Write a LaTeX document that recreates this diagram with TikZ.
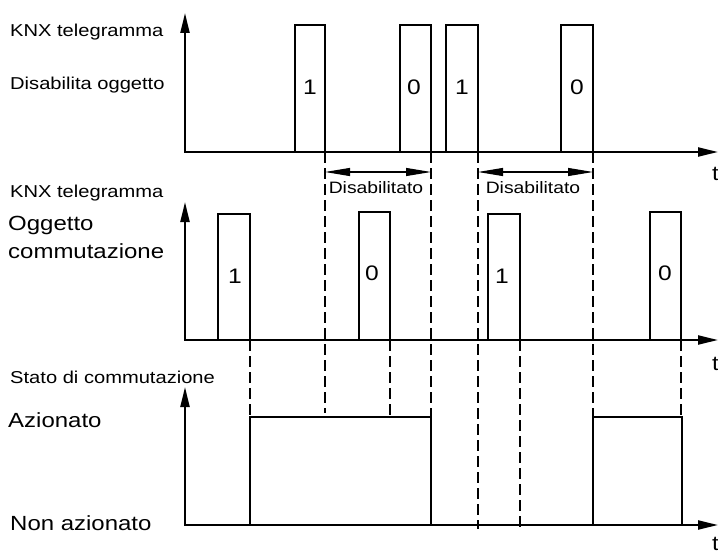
\documentclass[tikz,border=0pt]{standalone}
\usepackage{fontspec}
\setmainfont{Liberation Sans}[FakeStretch = 1.17]
\usepackage{tikz}
\usetikzlibrary{
    arrows.meta % Triangle tips on the axes and spans.
}

\begin{document}
\begin{tikzpicture}[%
        x = 1pt,
        y = -1pt,
        line cap = butt,
        axis/.style = {line width = 2.2pt,
            {Triangle[length = 20pt, width = 9pt]}-{Triangle[length = 20pt, width = 9pt]}},
        pulse/.style = {line width = 1.1pt},
        guide/.style = {line width = 1.1pt, dash pattern = on 11pt off 5pt},
        span/.style = {line width = 1.1pt,
            {Triangle[length = 25pt, width = 8pt]}-{Triangle[length = 25pt, width = 8pt]}},
        small/.style = {font = \fontsize{17.2}{20}\selectfont, anchor = base west, inner sep = 0pt},
        large/.style = {font = \fontsize{20.5}{24}\selectfont, anchor = base west, inner sep = 0pt},
        spanlabel/.style = {font = \fontsize{16.5}{20}\selectfont, anchor = base, inner sep = 0pt},
        bit/.style = {font = \fontsize{21}{24}\selectfont, anchor = base, inner sep = 0pt}
    ]

        % Page frame.
        \useasboundingbox (0, 0) rectangle (718, 551);

        % Origins and ends of the three time axes.
        \coordinate (Oa) at (185, 152);
        \coordinate (Ya) at (185, 13);
        \coordinate (Ta) at (718, 152);
        \coordinate (Ob) at (185, 340);
        \coordinate (Yb) at (185, 202);
        \coordinate (Tb) at (718, 340);
        \coordinate (Oc) at (185, 525);
        \coordinate (Yc) at (185, 387);
        \coordinate (Tc) at (718, 525);

        % Draw the axes.
        \draw[axis] (Ya) -- (Oa) -- (Ta);
        \draw[axis] (Yb) -- (Ob) -- (Tb);
        \draw[axis] (Yc) -- (Oc) -- (Tc);

        % Axis captions.
        \node[small] (knxa) at (10, 37) {KNX telegramma};
        \node[small] (dis) at (10, 89) {Disabilita oggetto};
        \node[small] (knxb) at (10, 197) {KNX telegramma};
        \node[large] (ogg) at (8, 230) {Oggetto};
        \node[large] (comm) at (8, 258) {commutazione};
        \node[small] (stato) at (10, 383) {Stato di commutazione};
        \node[large] (az) at (8, 427) {Azionato};
        \node[large] (naz) at (10, 530) {Non azionato};
        \node[large] (ta) at (712, 180) {t};
        \node[large] (tb) at (712, 370) {t};
        \node[large] (tc) at (712, 550) {t};

        % Telegrams on the disable object.
        \draw[pulse] (295, 152) |- (325, 25) -- (325, 152);
        \draw[pulse] (400, 152) |- (431, 25) -- (431, 152);
        \draw[pulse] (446, 152) |- (478, 25) -- (478, 152);
        \draw[pulse] (561, 152) |- (593, 25) -- (593, 152);
        \node[bit] (da) at (310, 95) {1};
        \node[bit] (db) at (414, 95) {0};
        \node[bit] (dc) at (462, 95) {1};
        \node[bit] (dd) at (577, 95) {0};

        % Telegrams on the switching object.
        \draw[pulse] (218, 340) |- (250, 214) -- (250, 340);
        \draw[pulse] (359, 340) |- (390, 212) -- (390, 340);
        \draw[pulse] (488, 340) |- (520, 214) -- (520, 340);
        \draw[pulse] (650, 340) |- (681, 212) -- (681, 340);
        \node[bit] (sa) at (235, 283) {1};
        \node[bit] (sb) at (372, 280) {0};
        \node[bit] (sc) at (502, 283) {1};
        \node[bit] (sd) at (665, 280) {0};

        % Resulting switching state.
        \draw[pulse] (250, 525) |- (431, 417) -- (431, 525);
        \draw[pulse] (593, 525) |- (682, 417) -- (682, 525);

        % Guide lines dropped from the telegram edges.
        \draw[guide] (325, 152) -- (325, 413);
        \draw[guide] (431, 152) -- (431, 417);
        \draw[guide] (478, 152) -- (478, 529);
        \draw[guide] (593, 152) -- (593, 417);
        \draw[guide] (250, 340) -- (250, 417);
        \draw[guide] (390, 340) -- (390, 417);
        \draw[guide] (520, 340) -- (520, 529);
        \draw[guide] (681, 340) -- (681, 417);

        % Disabled intervals.
        \coordinate (ka) at (325, 172);
        \coordinate (kb) at (431, 172);
        \coordinate (kc) at (478, 172);
        \coordinate (kd) at (593, 172);
        \draw[span] (ka) -- (kb);
        \draw[span] (kc) -- (kd);
        \node[spanlabel] (dsa) at (376, 193) {Disabilitato};
        \node[spanlabel] (dsb) at (533, 193) {Disabilitato};
    \end{tikzpicture}
\end{document}
